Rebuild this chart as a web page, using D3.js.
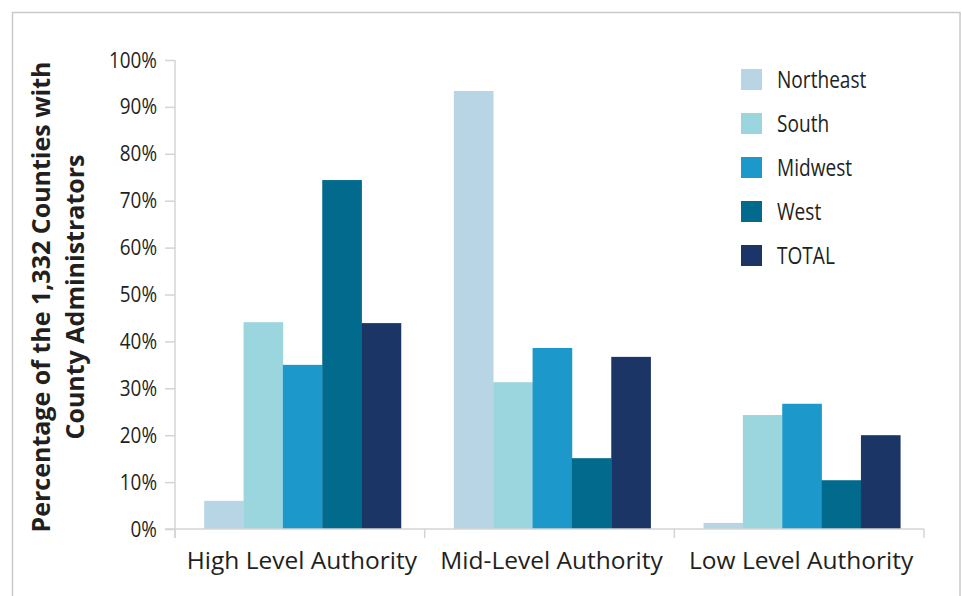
<!DOCTYPE html>
<html>
<head>
<meta charset="utf-8">
<script src="https://cdn.jsdelivr.net/npm/d3@7"></script>
<style>
  body { margin: 0; background: #fff; }
  svg { display: block; }
</style>
</head>
<body>
<div id="chart"></div>
<script>
// categories and series
var categories = ['High Level Authority', 'Mid-Level Authority', 'Low Level Authority'];
var series = ['Northeast', 'South', 'Midwest', 'West', 'TOTAL'];
var colors = ['#b8d5e6', '#9bd6de', '#1c98cb', '#016a8d', '#1b3666'];

// percent values per series, one entry per category
var northeast = [6.0, 93.4, 1.3];
var south = [44.1, 31.3, 24.3];
var midwest = [35.0, 38.6, 26.7];
var west = [74.4, 15.1, 10.4];
var total = [43.9, 36.7, 20.0];

var yTicks = [0, 10, 20, 30, 40, 50, 60, 70, 80, 90, 100];

(function () {
  var values = [northeast, south, midwest, west, total];

  var W = 962, H = 596;
  var m = { left: 175, right: 924, top: 60, bottom: 529 };
  var textColor = '#231f20';
  var gridColor = '#d4d4d4';
  var narrow = '"Open Sans", "Noto Sans", sans-serif';
  var wide = '"Open Sans", "Noto Sans", sans-serif';
  var squeeze = 0.86; // reference uses a condensed face for ticks and legend

  var svg = d3.select('#chart').append('svg')
    .attr('width', W)
    .attr('height', H);

  // frame
  svg.append('rect')
    .attr('x', 12.5).attr('y', 12.5)
    .attr('width', 947.5).attr('height', 620)
    .attr('fill', 'none')
    .attr('stroke', '#c9c9c9')
    .attr('stroke-width', 1.5);

  var x0 = d3.scaleBand().domain(categories).range([m.left, m.right]).padding(0);
  var bw = x0.bandwidth();
  var x1 = d3.scaleBand().domain(series).range([bw * 0.117, bw * 0.905]).padding(0);
  var y = d3.scaleLinear().domain([0, 100]).range([m.bottom, m.top]);

  // y axis
  var yAxis = svg.append('g')
    .attr('transform', 'translate(' + m.left + ',0)')
    .call(d3.axisLeft(y).tickValues(yTicks).tickSize(10).tickPadding(8)
      .tickFormat(function (d) { return d + '%'; }));
  yAxis.select('.domain').attr('stroke', gridColor).attr('stroke-width', 1.5)
    .attr('d', 'M0,' + m.top + 'V' + (m.bottom + 9));
  yAxis.selectAll('.tick line').attr('stroke', gridColor).attr('stroke-width', 1.5);
  yAxis.selectAll('.tick text')
    .attr('fill', textColor)
    .attr('x', -18 / squeeze)
    .attr('transform', 'scale(' + squeeze + ',1)')
    .style('font-family', narrow)
    .style('font-size', '22px');

  // bars
  var groups = svg.append('g').selectAll('g')
    .data(categories)
    .enter().append('g')
    .attr('transform', function (d) { return 'translate(' + x0(d) + ',0)'; });

  groups.selectAll('rect')
    .data(function (d, i) {
      return series.map(function (s, k) { return { s: s, k: k, v: values[k][i] }; });
    })
    .enter().append('rect')
    .attr('x', function (d) { return x1(d.s); })
    .attr('width', x1.bandwidth() + 0.3)
    .attr('y', function (d) { return y(d.v); })
    .attr('height', function (d) { return y(0) - y(d.v); })
    .attr('fill', function (d) { return colors[d.k]; });

  // x axis: baseline, boundary ticks, labels
  var xAxis = svg.append('g')
    .attr('transform', 'translate(0,' + m.bottom + ')')
    .call(d3.axisBottom(x0).tickSize(0).tickPadding(23));
  xAxis.select('.domain').attr('stroke', gridColor).attr('stroke-width', 1.5)
    .attr('d', 'M' + (m.left - 10) + ',0H' + m.right);
  xAxis.selectAll('.tick text')
    .attr('fill', textColor)
    .attr('dx', 2)
    .style('font-family', wide)
    .style('font-size', '24.5px');

  var bounds = categories.map(function (c) { return x0(c); }).concat([m.right]);
  xAxis.selectAll('line.bound')
    .data(bounds)
    .enter().append('line')
    .attr('class', 'bound')
    .attr('x1', function (d) { return d; })
    .attr('x2', function (d) { return d; })
    .attr('y1', 0).attr('y2', 9)
    .attr('stroke', gridColor)
    .attr('stroke-width', 1.5);

  // y title
  var title = svg.append('text')
    .attr('transform', 'translate(0,297) rotate(-90)')
    .attr('text-anchor', 'middle')
    .attr('fill', textColor)
    .style('font-family', wide)
    .style('font-weight', 'bold')
    .style('font-size', '25px');
  title.append('tspan').attr('x', 0).attr('y', 50).text('Percentage of the 1,332 Counties with');
  title.append('tspan').attr('x', 0).attr('y', 84).text('County Administrators');

  // legend
  var legend = svg.append('g').attr('transform', 'translate(741,69)');
  var item = legend.selectAll('g')
    .data(series)
    .enter().append('g')
    .attr('transform', function (d, i) { return 'translate(0,' + (i * 44) + ')'; });
  item.append('rect')
    .attr('width', 21).attr('height', 21)
    .attr('fill', function (d, i) { return colors[i]; });
  item.append('text')
    .attr('transform', 'translate(36,10.5) scale(0.83,1)')
    .attr('dy', '0.36em')
    .attr('fill', textColor)
    .style('font-family', narrow)
    .style('font-size', '23px')
    .text(function (d) { return d; });
})();
</script>
</body>
</html>
